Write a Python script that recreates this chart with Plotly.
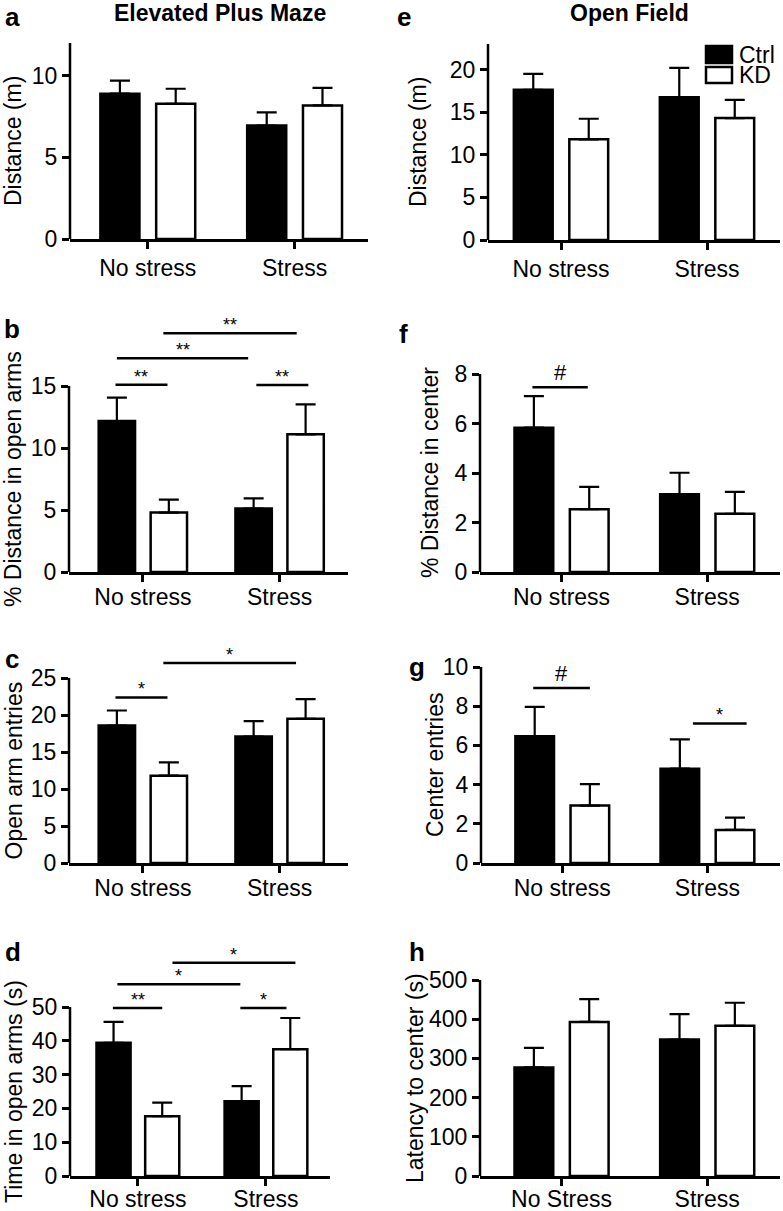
import plotly.graph_objects as go

W, H = 783, 1211

# ---------------- data ----------------
groups = ["No stress", "Stress"]
groups_h = ["No Stress", "Stress"]
series_names = ["Ctrl", "KD"]

a_ctrl = [8.9, 6.95];   a_ctrl_err = [0.8, 0.8]
a_kd = [8.28, 8.18];    a_kd_err = [0.92, 1.07]
b_ctrl = [12.17, 5.12]; b_ctrl_err = [1.9, 0.81]
b_kd = [4.79, 11.1];    b_kd_err = [1.05, 2.42]
c_ctrl = [18.58, 17.09]; c_ctrl_err = [2.03, 2.08]
c_kd = [11.8, 19.48];   c_kd_err = [1.8, 2.67]
d_ctrl = [39.4, 22.1];  d_ctrl_err = [6.2, 4.5]
d_kd = [17.7, 37.5];    d_kd_err = [4.0, 9.25]
e_ctrl = [17.62, 16.76]; e_ctrl_err = [1.87, 3.43]
e_kd = [11.81, 14.31];  e_kd_err = [2.42, 2.14]
f_ctrl = [5.83, 3.14];  f_ctrl_err = [1.28, 0.87]
f_kd = [2.54, 2.35];    f_kd_err = [0.9, 0.89]
g_ctrl = [6.47, 4.81];  g_ctrl_err = [1.5, 1.5]
g_kd = [2.93, 1.69];    g_kd_err = [1.09, 0.63]
h_ctrl = [277, 348];    h_ctrl_err = [50, 65]
h_kd = [393, 383];      h_kd_err = [58, 59]

# significance brackets: (from, to, level, label) in category/data units
b_sig = [(-0.20, 0.18, 15.1, "**"), (-0.19, 0.77, 17.24, "**"),
         (0.15, 1.125, 19.26, "**"), (0.83, 1.21, 15.08, "**")]
c_sig = [(-0.20, 0.18, 22.38, "*"), (0.15, 1.12, 27.03, "*")]
d_sig = [(-0.195, 0.19, 49.7, "**"), (-0.16, 0.80, 56.7, "*"),
         (0.27, 1.23, 63.1, "*"), (0.80, 1.16, 49.7, "*")]
f_sig = [(-0.20, 0.18, 7.46, "#")]
g_sig = [(-0.20, 0.19, 8.93, "#"), (0.90, 1.27, 7.12, "*")]

y_titles = {
    "a": "Distance (m)", "b": "% Distance in open arms", "c": "Open arm entries",
    "d": "Time in open arms (s)", "e": "Distance (m)", "f": "% Distance in center",
    "g": "Center entries", "h": "Latency to center (s)",
}
y_ticks = {
    "a": [0, 5, 10], "b": [0, 5, 10, 15], "c": [0, 5, 10, 15, 20, 25],
    "d": [0, 10, 20, 30, 40, 50], "e": [0, 5, 10, 15, 20], "f": [0, 2, 4, 6, 8],
    "g": [0, 2, 4, 6, 8, 10], "h": [0, 100, 200, 300, 400, 500],
}
col_titles = ["Elevated Plus Maze", "Open Field"]

# ---------------- layout geometry (pixels) ----------------
panels = {
    "a": dict(xpx=(70, 368), xl=-0.53, y0=239, tpx=43, ytop=12, rmax=12, tx=13, so=0,
              data=(a_ctrl, a_ctrl_err, a_kd, a_kd_err), sig=[], cats=groups, lx=3, lb=20),
    "b": dict(xpx=(69, 348), xl=-0.54, y0=572, tpx=386, ytop=15, rmax=20.5, tx=13, so=-4,
              data=(b_ctrl, b_ctrl_err, b_kd, b_kd_err), sig=b_sig, cats=groups, lx=2, lb=337),
    "c": dict(xpx=(69, 348), xl=-0.54, y0=863, tpx=678, ytop=25, rmax=28.5, tx=13, so=-4,
              data=(c_ctrl, c_ctrl_err, c_kd, c_kd_err), sig=c_sig, cats=groups, lx=3, lb=667),
    "d": dict(xpx=(70, 330), xl=-0.53, y0=1176, tpx=1007, ytop=50, rmax=66, tx=13.5, so=-6,
              data=(d_ctrl, d_ctrl_err, d_kd, d_kd_err), sig=d_sig, cats=groups, lx=3, lb=960),
    "e": dict(xpx=(488, 780), xl=-0.5, y0=240, tpx=44, ytop=23, rmax=23, tx=418, so=0,
              data=(e_ctrl, e_ctrl_err, e_kd, e_kd_err), sig=[], cats=groups, lx=395, lb=21),
    "f": dict(xpx=(480, 780), xl=-0.56, y0=572, tpx=374, ytop=8, rmax=8.2, tx=430, so=-4,
              data=(f_ctrl, f_ctrl_err, f_kd, f_kd_err), sig=f_sig, cats=groups, lx=397, lb=342),
    "g": dict(xpx=(481, 780), xl=-0.56, y0=863, tpx=667, ytop=10, rmax=10, tx=435, so=-4,
              data=(g_ctrl, g_ctrl_err, g_kd, g_kd_err), sig=g_sig, cats=groups, lx=407, lb=675),
    "h": dict(xpx=(480, 780), xl=-0.56, y0=1176, tpx=980, ytop=500, rmax=500, tx=415, so=-6,
              data=(h_ctrl, h_ctrl_err, h_kd, h_kd_err), sig=[], cats=groups_h, lx=407, lb=960),
}

FONT = "Liberation Sans, Arial, Helvetica, sans-serif"
FS = 23
LW = 2.5
LETTER_FS = 26

fig = go.Figure()
layout = dict(
    width=W, height=H, margin=dict(l=0, r=0, t=0, b=0, autoexpand=False),
    paper_bgcolor="white", plot_bgcolor="white",
    barmode="group", bargap=0.24, bargroupgap=0.3,
    showlegend=False, font=dict(family=FONT, size=FS, color="black"),
)
shapes = []
annotations = []

for i, (key, p) in enumerate(panels.items()):
    n = "" if i == 0 else str(i + 1)
    xa, ya = "x" + n, "y" + n
    top_px = p["y0"] - (p["y0"] - p["tpx"]) * p["rmax"] / p["ytop"]
    layout["xaxis" + n] = dict(
        domain=[p["xpx"][0] / W, p["xpx"][1] / W], anchor=ya,
        range=[p["xl"], 1.5], type="category", automargin=False,
        showline=True, linewidth=LW, linecolor="black",
        ticks="outside", ticklen=7, tickwidth=LW, tickcolor="black",
        ticklabelstandoff=p["so"],
        showgrid=False, zeroline=False, tickfont=dict(size=FS),
    )
    layout["yaxis" + n] = dict(
        domain=[1 - p["y0"] / H, 1 - top_px / H], anchor=xa,
        range=[0, p["rmax"]], tickvals=y_ticks[key], automargin=False,
        showline=False, ticks="outside", ticklen=7, tickwidth=LW, tickcolor="black",
        showgrid=False, zeroline=False, tickfont=dict(size=FS),
    )
    ctrl, ctrl_err, kd, kd_err = p["data"]
    fig.add_trace(go.Bar(
        x=p["cats"], y=ctrl, name=series_names[0], xaxis=xa, yaxis=ya,
        marker=dict(color="black", line=dict(color="black", width=LW)),
        error_y=dict(type="data", array=ctrl_err, arrayminus=[0] * len(ctrl_err),
                     symmetric=False, color="black", thickness=2.2, width=10),
    ))
    fig.add_trace(go.Bar(
        x=p["cats"], y=kd, name=series_names[1], xaxis=xa, yaxis=ya,
        marker=dict(color="white", line=dict(color="black", width=LW)),
        error_y=dict(type="data", array=kd_err, arrayminus=[0] * len(kd_err),
                     symmetric=False, color="black", thickness=2.2, width=10),
    ))
    # y axis line up to the top tick only
    shapes.append(dict(type="line", xref=xa + " domain", yref=ya, x0=0, x1=0,
                       y0=0, y1=p["ytop"], line=dict(color="black", width=LW)))
    # significance brackets
    for (s0, s1, lvl, lab) in p["sig"]:
        shapes.append(dict(type="line", xref=xa, yref=ya, x0=s0, x1=s1, y0=lvl, y1=lvl,
                           line=dict(color="black", width=LW)))
        fs = 22 if lab == "#" else 18
        annotations.append(dict(xref=xa, yref=ya, x=(s0 + s1) / 2, y=lvl, text=lab,
                                showarrow=False, yanchor="bottom", yshift=-4 if lab != "#" else 0,
                                font=dict(size=fs, family=FONT)))
    # y title
    annotations.append(dict(xref="paper", yref=ya, x=p["tx"] / W, y=p["ytop"] / 2,
                            text=y_titles[key], textangle=-90, showarrow=False,
                            xanchor="center", yanchor="middle", font=dict(size=FS)))
    # panel letter (box kept inside the page)
    centre = p["lb"] - 0.35 * LETTER_FS
    box_top = max(0.0, centre - 0.58 * LETTER_FS - 1)
    annotations.append(dict(xref="paper", yref="paper", x=p["lx"] / W,
                            y=1 - box_top / H, text="<b>%s</b>" % key,
                            showarrow=False, xanchor="left", yanchor="top",
                            font=dict(size=LETTER_FS)))

# column titles
for txt, cx in zip(col_titles, [220, 629]):
    annotations.append(dict(xref="paper", yref="paper", x=cx / W, y=1 - 13 / H,
                            text="<b>%s</b>" % txt, showarrow=False,
                            xanchor="center", yanchor="middle", font=dict(size=FS)))

# legend (drawn in panel e corner)
leg_items = [(series_names[0], "black", 46, 63), (series_names[1], "white", 67, 83)]
for name, col, t, b in leg_items:
    shapes.append(dict(type="rect", xref="paper", yref="paper",
                       x0=706 / W, x1=732 / W, y0=1 - b / H, y1=1 - t / H,
                       fillcolor=col, line=dict(color="black", width=LW)))
    annotations.append(dict(xref="paper", yref="paper", x=737 / W, y=1 - (t + b) / 2 / H,
                            text=name, showarrow=False, xanchor="left", yanchor="middle",
                            font=dict(size=FS)))

layout["shapes"] = shapes
layout["annotations"] = annotations
fig.update_layout(**layout)
fig.write_html(
    "out.html",
    config={"displayModeBar": False},
    post_script="document.body.style.margin='0';document.body.style.padding='0';"
                "document.documentElement.style.overflow='hidden';",
)
